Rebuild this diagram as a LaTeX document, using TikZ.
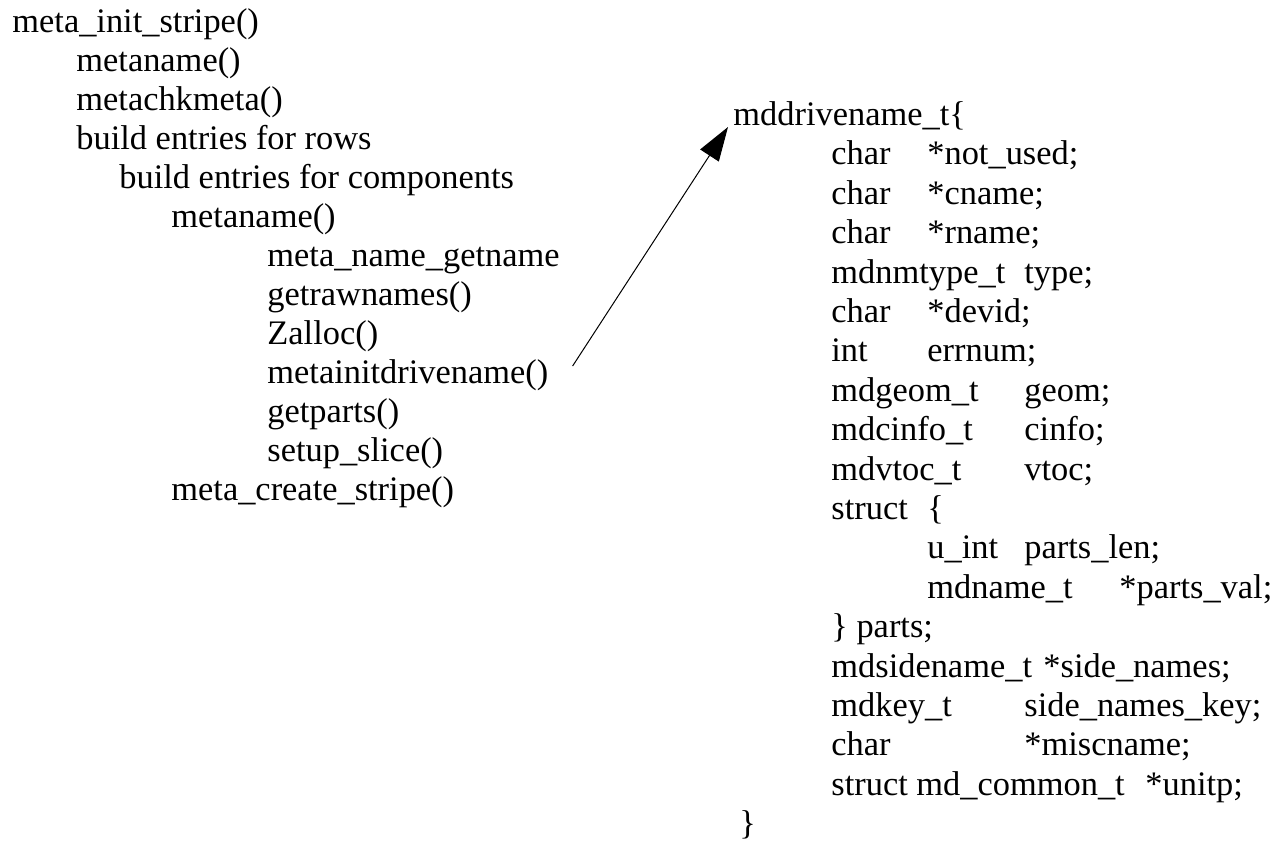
\documentclass[tikz,border=0pt]{standalone}
\usepackage{fontspec}
\setmainfont{Liberation Serif}
\usetikzlibrary{arrows.meta}
\newcommand{\fld}[2]{\makebox[#1][l]{#2}}

\begin{document}
\begin{tikzpicture}[x=0.5pt, y=-0.5pt,
    code/.style={anchor=base west, inner sep=0pt, font=\fontsize{17.2}{19}\selectfont},
    link/.style={-{Triangle[length=17pt,width=11pt]}, line width=0.5pt}]
    \useasboundingbox (0,0) rectangle (1272,842);

    % LEFT: call sequence
    \node[code] (init) at (12,32) {meta\_init\_stripe()};
    \node[code] (mname) at (76,71) {metaname()};
    \node[code] (chk) at (76,110) {metachkmeta()};
    \node[code] (rows) at (76,149) {build entries for rows};
    \node[code] (comps) at (119,188) {build entries for components};
    \node[code] (mnamec) at (171,227) {metaname()};
    \node[code] (getname) at (267,266) {meta\_name\_getname};
    \node[code] (raw) at (267,305) {getrawnames()};
    \node[code] (zalloc) at (267,344) {Zalloc()};
    \node[code] (initdrive) at (267,383) {metainitdrivename()};
    \node[code] (parts) at (267,422) {getparts()};
    \node[code] (slice) at (267,461) {setup\_slice()};
    \node[code] (create) at (171,500) {meta\_create\_stripe()};

    % RIGHT: the mddrivename_t structure
    \node[code] (hdr) at (733,125) {mddrivename\_t\{};
    \node[code] (f1) at (831,164) {\fld{48pt}{char}*not\_used;};
    \node[code] (f2) at (831,204) {\fld{48pt}{char}*cname;};
    \node[code] (f3) at (831,243) {\fld{48pt}{char}*rname;};
    \node[code] (f4) at (831,283) {\fld{96.5pt}{mdnmtype\_t}type;};
    \node[code] (f5) at (831,322) {\fld{48pt}{char}*devid;};
    \node[code] (f6) at (831,361) {\fld{48pt}{int}errnum;};
    \node[code] (f7) at (831,401) {\fld{96.5pt}{mdgeom\_t}geom;};
    \node[code] (f8) at (831,440) {\fld{96.5pt}{mdcinfo\_t}cinfo;};
    \node[code] (f9) at (831,480) {\fld{96.5pt}{mdvtoc\_t}vtoc;};
    \node[code] (f10) at (831,519) {\fld{48pt}{struct}\{};
    \node[code] (f11) at (927,558) {\fld{48.5pt}{u\_int}parts\_len;};
    \node[code] (f12) at (927,598) {\fld{96pt}{mdname\_t}*parts\_val;};
    \node[code] (f13) at (831,637) {\} parts;};
    \node[code] (f14) at (831,677) {\fld{106pt}{mdsidename\_t}*side\_names;};
    \node[code] (f15) at (831,716) {\fld{96.5pt}{mdkey\_t}side\_names\_key;};
    \node[code] (f16) at (831,755) {\fld{96.5pt}{char}*miscname;};
    \node[code] (f17) at (831,795) {\fld{157pt}{struct md\_common\_t}*unitp;};
    \node[code] (close) at (739,834) {\}};

    % Arrow from the call to the structure
    \coordinate (tail) at ([xshift=12pt,yshift=8.5pt]initdrive.base east);
    \draw[link] (tail) -- ([xshift=-2.5pt,yshift=-1pt]hdr.base west);
\end{tikzpicture}
\end{document}
